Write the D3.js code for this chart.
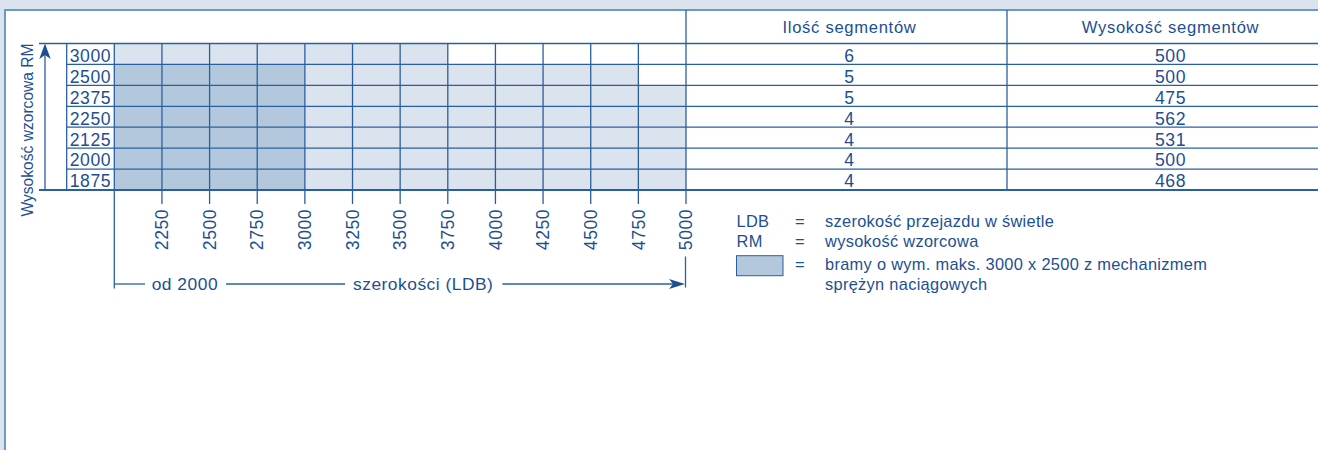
<!DOCTYPE html>
<html>
<head>
<meta charset="utf-8">
<script src="https://cdn.jsdelivr.net/npm/d3@7"></script>
<style>
  html, body { margin: 0; padding: 0; background: #dbe4ee; }
  svg { display: block; }
  text { font-family: "Liberation Sans", Arial, sans-serif; fill: #1d4f91; }
</style>
</head>
<body>
<div id="chart"></div>
<script>
// gate heights (RM) from top to bottom
var heights = ["3000", "2500", "2375", "2250", "2125", "2000", "1875"];
// widths (LDB) at the column boundaries
var widthTicks = [2250, 2500, 2750, 3000, 3250, 3500, 3750, 4000, 4250, 4500, 4750, 5000];
var minWidth = 2000;
// max width available for each height
var maxWidth = [3750, 4750, 5000, 5000, 5000, 5000, 5000];
// max width with tension spring mechanism (0 = none)
var springWidth = [0, 3000, 3000, 3000, 3000, 3000, 3000];
// table columns
var tableHeaders = ["Ilość segmentów", "Wysokość segmentów"];
var segmentCount = [6, 5, 5, 4, 4, 4, 4];
var segmentHeight = [500, 500, 475, 562, 531, 500, 468];
// legend
var legendKeys = ["LDB", "RM", ""];
var legendTexts = [["szerokość przejazdu w świetle"], ["wysokość wzorcowa"],
    ["bramy o wym. maks. 3000 x 2500 z mechanizmem", "sprężyn naciągowych"]];

var W = 1318, H = 450;
var lineColor = "#2a5f9f";
var darkFill = "#b3c8dd", lightFill = "#dae3ee";

var svg = d3.select("#chart").append("svg")
    .attr("width", W)
    .attr("height", H);

// frame
svg.append("rect").attr("width", W).attr("height", H).attr("fill", "#dbe4ee");
svg.append("rect").attr("x", 6).attr("y", 11).attr("width", W).attr("height", H).attr("fill", "#fff");
svg.append("path")
    .attr("d", "M5," + H + "V10H" + W)
    .attr("fill", "none").attr("stroke", "#6b98c5").attr("stroke-width", 2);

var x = d3.scaleLinear().domain([minWidth, 5000]).range([114.3, 686]);
var y = d3.scaleBand().domain(heights).range([43.5, 190]);
var colX = d3.scaleBand().domain(tableHeaders).range([689, 1331]);

// cells
var cells = [];
heights.forEach(function(h, i) {
    [minWidth].concat(widthTicks.slice(0, -1)).forEach(function(w0, j) {
        var w1 = widthTicks[j];
        if (w1 <= maxWidth[i]) {
            cells.push({ h: h, w0: w0, w1: w1, spring: w1 <= springWidth[i] });
        }
    });
});

svg.append("g").selectAll("rect")
    .data(cells)
    .enter().append("rect")
        .attr("x", function(d) { return x(d.w0); })
        .attr("y", function(d) { return y(d.h); })
        .attr("width", function(d) { return x(d.w1) - x(d.w0); })
        .attr("height", y.bandwidth())
        .attr("fill", function(d) { return d.spring ? darkFill : lightFill; });

var grid = svg.append("g").attr("stroke", lineColor).attr("fill", "none");

// row lines
grid.selectAll(".row-line")
    .data(heights.slice(1))
    .enter().append("line")
        .attr("x1", 66.7).attr("x2", W)
        .attr("y1", function(d) { return y(d); })
        .attr("y2", function(d) { return y(d); })
        .attr("stroke-width", 1.3);
grid.append("line")
    .attr("x1", 39).attr("x2", W)
    .attr("y1", y.range()[0]).attr("y2", y.range()[0])
    .attr("stroke-width", 1.5);
grid.append("line")
    .attr("x1", 39).attr("x2", W)
    .attr("y1", y.range()[1]).attr("y2", y.range()[1])
    .attr("stroke-width", 2.2);

// column lines + ticks
grid.selectAll(".col-line")
    .data(widthTicks)
    .enter().append("line")
        .attr("x1", function(d) { return x(d); })
        .attr("x2", function(d) { return x(d); })
        .attr("y1", function(d) { return d == 5000 ? 10 : y.range()[0]; })
        .attr("y2", 204)
        .attr("stroke-width", 1.3);
// left edge of grid and of row labels
grid.append("line")
    .attr("x1", x(minWidth)).attr("x2", x(minWidth))
    .attr("y1", y.range()[0]).attr("y2", 288.5)
    .attr("stroke-width", 1.3);
grid.append("line")
    .attr("x1", 66.7).attr("x2", 66.7)
    .attr("y1", y.range()[0]).attr("y2", y.range()[1])
    .attr("stroke-width", 1.3);
// table divider
grid.append("line")
    .attr("x1", 1007).attr("x2", 1007)
    .attr("y1", 10).attr("y2", y.range()[1])
    .attr("stroke-width", 1.3);

// row labels
svg.append("g").selectAll("text")
    .data(heights)
    .enter().append("text")
        .text(function(d) { return d; })
        .attr("x", 90.5)
        .attr("y", function(d) { return y(d) + y.bandwidth() - 2.6; })
        .style("text-anchor", "middle")
        .style("font-size", "17.6px")
        .style("letter-spacing", "0.6px");

// width tick labels
svg.append("g").selectAll("text")
    .data(widthTicks)
    .enter().append("text")
        .text(function(d) { return d; })
        .attr("transform", function(d) { return "translate(" + x(d) + ",209) rotate(-90)"; })
        .attr("dy", "0.35em")
        .style("text-anchor", "end")
        .style("font-size", "17.6px")
        .style("letter-spacing", "0.5px");

// y axis title + arrow
svg.append("text")
    .text("Wysokość wzorcowa RM")
    .attr("transform", "translate(32.5,130) rotate(-90)")
    .style("text-anchor", "middle")
    .style("font-size", "15.6px");
svg.append("line")
    .attr("x1", 45).attr("x2", 45).attr("y1", 190).attr("y2", 52)
    .attr("stroke", lineColor).attr("stroke-width", 1.3);
svg.append("path")
    .attr("d", "M45,43.5L50.7,59L45,55L39.3,59Z")
    .attr("fill", "#1d4f91");

// table
svg.append("g").selectAll("text")
    .data(tableHeaders)
    .enter().append("text")
        .text(function(d) { return d; })
        .attr("x", function(d) { return colX(d) + colX.bandwidth() / 2; })
        .attr("y", 33.3)
        .style("text-anchor", "middle")
        .style("font-size", "16.6px")
        .style("letter-spacing", "0.7px");

[segmentCount, segmentHeight].forEach(function(vals, c) {
    svg.append("g").selectAll("text")
        .data(vals)
        .enter().append("text")
            .text(function(d) { return d; })
            .attr("x", colX(tableHeaders[c]) + colX.bandwidth() / 2)
            .attr("y", function(d, i) { return y(heights[i]) + y.bandwidth() - 2.6; })
            .style("text-anchor", "middle")
            .style("font-size", "17.6px")
            .style("letter-spacing", "0.6px");
});

// bottom width arrow
var arrowY = 284;
var bottom = svg.append("g");
var t1 = bottom.append("text").text("od " + minWidth)
    .attr("x", 151.7).attr("y", 289.5)
    .style("font-size", "17.4px").style("letter-spacing", "0.5px");
var t2 = bottom.append("text").text("szerokości (LDB)")
    .attr("x", 353).attr("y", 289.5)
    .style("font-size", "17.4px").style("letter-spacing", "0.5px");
var e1 = 151.7 + t1.node().getComputedTextLength();
var e2 = 353 + t2.node().getComputedTextLength();
var segs = [[x(minWidth), 145], [e1 + 8, 345], [e2 + 9, x(5000) - 6]];
bottom.selectAll("line")
    .data(segs)
    .enter().append("line")
        .attr("x1", function(d) { return d[0]; })
        .attr("x2", function(d) { return d[1]; })
        .attr("y1", arrowY).attr("y2", arrowY)
        .attr("stroke", lineColor).attr("stroke-width", 1.3);
bottom.append("path")
    .attr("d", "M" + (x(5000) - 1) + "," + arrowY + "l-16,-5l4,5l-4,5Z")
    .attr("fill", "#1d4f91");
bottom.append("line")
    .attr("x1", x(5000) - 0.5).attr("x2", x(5000) - 0.5)
    .attr("y1", 256.5).attr("y2", 287.5)
    .attr("stroke", lineColor).attr("stroke-width", 1.3);

// legend
var legendBase = [227.3, 247, 270, 289.8];
var leg = svg.append("g").style("font-size", "16.4px").style("letter-spacing", "0.3px");
legendKeys.forEach(function(k, i) {
    leg.append("text").text(k).attr("x", 736.5).attr("y", legendBase[i]);
    leg.append("text").text("=").attr("x", 800).attr("y", legendBase[i])
        .style("text-anchor", "middle");
    legendTexts[i].forEach(function(s, j) {
        leg.append("text").text(s).attr("x", 825).attr("y", legendBase[i + j]);
    });
});
leg.append("rect")
    .attr("x", 736.5).attr("y", 255.7).attr("width", 46.5).attr("height", 20)
    .attr("fill", darkFill).attr("stroke", lineColor).attr("stroke-width", 1);
</script>
</body>
</html>
